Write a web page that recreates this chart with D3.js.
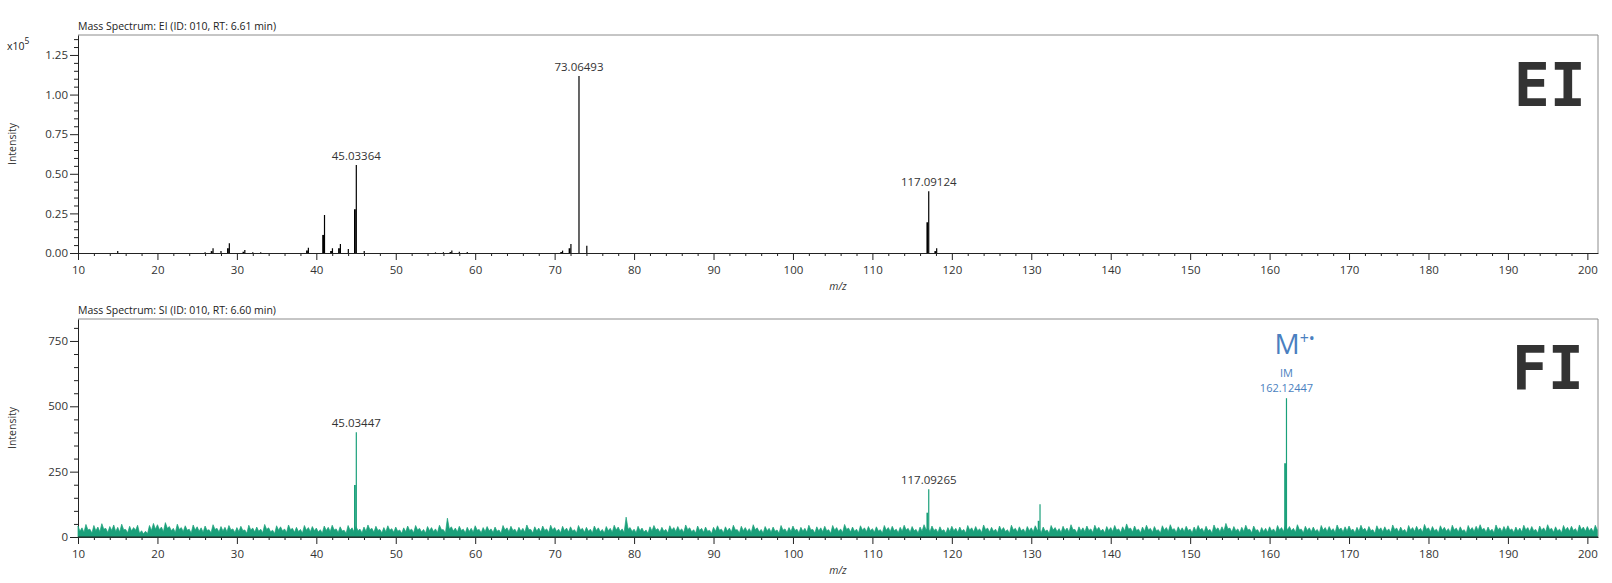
<!DOCTYPE html>
<html><head><meta charset="utf-8">
<script src="https://cdn.jsdelivr.net/npm/d3@7"></script>
<style>body{margin:0;background:#fff;} svg text{font-family:"Open Sans","Noto Sans",sans-serif;}</style>
</head><body><svg id="c" width="1612" height="583"></svg>
<script>
// ---------- DATA ----------
const xTickValues = [10,20,30,40,50,60,70,80,90,100,110,120,130,140,150,160,170,180,190,200];
const eiYTicks = [0, 25000, 50000, 75000, 100000, 125000];
const fiYTicks = [0, 250, 500, 750];

// EI spectrum (intensity counts)
const eiMz        = [15.0, 26.0, 27.0, 28.0, 29.05, 31.0, 32.0, 33.0, 39.0, 41.03, 42.03, 43.03, 44.03, 45.03364, 46.03, 55.0, 56.0, 57.06, 58.0, 59.0, 71.0, 72.05, 73.06493, 74.05, 117.09124, 118.09];
const eiIntensity = [1200, 500, 3000, 1200, 6100, 1900, 500, 400, 3300, 24000, 3000, 5700, 2500, 55600, 1200, 400, 500, 1500, 800, 600, 1500, 5700, 111700, 4500, 39000, 3000];
const eiShoulder  = [0, 0, 1200, 0, 3000, 800, 0, 0, 1500, 11400, 1200, 3000, 0, 27600, 0, 0, 0, 600, 0, 0, 600, 3000, 0, 0, 19400, 1200];
const eiLabels    = ["45.03364", "73.06493", "117.09124"];
const eiLabelMz   = [45.03364, 73.06493, 117.09124];

// FI spectrum
const fiMz        = [45.03447, 117.09265, 131.1, 162.12447];
const fiIntensity = [401, 183, 125, 531];
const fiShoulder  = [199, 93, 62, 282];
const fiLabels    = ["45.03447", "117.09265"];
const fiLabelMz   = [45.03447, 117.09265];
const fiIonMz     = 162.12447;
const fiIonLabel  = "162.12447";

// FI baseline noise: crests sampled at 10, 10.5, 11 ... and troughs at 10.25, 10.75 ...
const fiNoiseStart = 10, fiNoiseStep = 0.5;
const fiNoise = [
 42,35,48,30,44,38,51,33,40,46,37,49,29,41,36,45,24,22,44,52,
 47,38,55,40,33,49,36,43,30,46,39,35,42,28,47,33,40,37,44,31,
 36,41,27,45,34,38,30,48,35,26,43,39,31,46,33,37,29,44,36,40,
 34,28,42,37,45,31,39,26,44,35,40,30,38,46,33,41,29,36,43,32,
 38,27,35,42,30,44,33,29,40,36,31,45,28,72,39,34,41,30,37,33,
 43,29,36,40,31,38,27,44,35,41,30,37,33,46,29,39,34,42,31,45,
 36,30,41,34,39,28,44,33,37,30,42,35,29,40,33,45,38,31,76,36,
 30,41,34,27,39,44,32,37,29,43,36,40,31,46,35,28,42,33,38,26,
 37,43,30,39,34,45,28,41,36,32,47,35,29,40,33,38,27,44,31,36,
 42,30,37,33,45,29,39,35,41,28,44,36,31,48,34,38,30,43,35,40,
 32,39,28,44,36,41,30,37,45,33,40,29,38,47,35,42,31,39,28,36,
 41,33,38,29,44,35,40,31,46,34,37,30,42,36,28,45,33,39,31,40,
 35,43,30,38,27,44,36,32,41,34,47,29,39,35,42,31,45,37,30,40,
 36,44,31,39,50,34,42,30,38,45,33,40,28,43,36,47,32,39,35,41,
 30,38,44,33,41,29,46,35,39,52,34,40,31,37,45,30,42,28,36,33,
 39,31,44,36,45,40,33,47,30,41,35,38,29,44,36,40,32,46,34,39,
 42,30,37,45,33,40,28,43,35,39,31,46,34,38,29,44,36,41,33,48,
 35,40,30,43,37,32,45,34,39,28,44,36,41,47,33,38,30,46,35,40,
 43,31,38,34,45,36,40,29,42,35,47,33,39,30,44,37,41,32,46,38,
 40,34,45,36
];
const fiNoiseTrough = [
 22,18,27,15,24,20,30,17,25,21,19,28,16,23,26,14,12,13,25,30,
 28,20,33,24,17,29,21,26,15,27,22,18,25,16,29,19,23,20,27,17,
 21,25,14,27,19,22,16,29,20,13,26,23,17,28,18,21,15,26,20,24,
 19,15,25,21,27,17,23,14,26,20,24,16,22,28,18,25,16,20,26,18,
 22,14,20,25,16,27,19,15,24,21,17,28,15,30,23,19,25,16,21,18,
 26,16,21,24,17,22,14,27,20,25,16,22,18,28,15,23,19,25,17,27,
 21,16,24,19,23,15,27,18,22,16,25,20,15,24,18,27,22,17,30,21,
 16,24,19,14,23,27,18,22,15,26,21,24,17,28,20,15,25,18,22,13,
 22,26,16,23,19,27,15,24,21,17,28,20,15,24,18,22,14,26,17,21,
 25,16,22,18,27,15,23,20,24,14,26,21,17,29,19,22,16,26,20,24,
 18,23,15,26,21,24,16,22,27,18,24,15,22,28,20,25,17,23,14,21,
 24,18,22,15,26,20,24,17,28,19,22,16,25,21,14,27,18,23,17,24,
 20,26,16,22,14,27,21,17,24,19,28,15,23,20,25,17,27,22,16,24,
 21,26,17,23,30,19,25,16,22,27,18,24,15,26,21,28,17,23,20,25,
 16,22,27,18,24,15,28,20,23,31,19,24,17,21,27,16,25,14,21,18,
 23,17,26,21,27,24,18,28,16,25,20,22,15,26,21,24,17,28,19,23,
 25,16,22,27,18,24,14,26,20,23,17,28,19,22,15,26,21,25,18,29,
 20,24,16,26,22,17,27,19,23,14,26,21,25,28,18,22,16,28,20,24,
 26,17,22,19,27,21,24,15,25,20,28,18,23,16,26,22,25,17,28,22,
 24,19,27,21
];

// ---------- LAYOUT ----------
const L = 78, R = 1598;
const P1 = {top: 35, bottom: 253};
const P2 = {top: 319, bottom: 537};
const textCol = "#333";
const green = "#1aa07a";
const blue = "#4a7fc0";

const svg = d3.select("#c");
const x = d3.scaleLinear().domain([10, 10 + (R - L) / 7.944]).range([L, R]);
const yEI = d3.scaleLinear().domain([0, 137600]).range([P1.bottom, P1.top]);
const yFI = d3.scaleLinear().domain([0, 834]).range([P2.bottom, P2.top]);

function drawAxes(P, y, majorY, minorStep, fmt) {
  svg.append("path").attr("d", `M${L},${P.top}H${R}V${P.bottom}`)
     .attr("fill","none").attr("stroke","#8c8c8c").attr("stroke-width",1);
  const xMinor = d3.range(10, 202, 2).filter(v => xTickValues.indexOf(v) < 0);
  const gxm = svg.append("g").attr("transform",`translate(0,${P.bottom})`)
     .call(d3.axisBottom(x).tickValues(xMinor).tickSize(3).tickSizeOuter(0).tickFormat(""));
  gxm.select(".domain").remove();
  const gx = svg.append("g").attr("transform",`translate(0,${P.bottom})`)
     .call(d3.axisBottom(x).tickValues(xTickValues).tickSize(7).tickSizeOuter(0).tickPadding(6));
  gx.selectAll("text").attr("fill", textCol).style("font-size","11.5px");
  gx.selectAll("line,path").attr("stroke","#222");
  gxm.selectAll("line").attr("stroke","#222");
  const yMax = y.domain()[1];
  const yMinor = d3.range(0, yMax, minorStep).filter(v => majorY.indexOf(Math.round(v)) < 0);
  const gym = svg.append("g").attr("transform",`translate(${L},0)`)
     .call(d3.axisLeft(y).tickValues(yMinor).tickSize(4).tickSizeOuter(0).tickFormat(""));
  gym.select(".domain").remove();
  gym.selectAll("line").attr("stroke","#222");
  const gy = svg.append("g").attr("transform",`translate(${L},0)`)
     .call(d3.axisLeft(y).tickValues(majorY).tickSize(8).tickSizeOuter(0).tickPadding(2).tickFormat(fmt));
  gy.selectAll("text").attr("fill", textCol).style("font-size","11.5px");
  gy.selectAll("line,path").attr("stroke","#222");
  svg.append("text").attr("transform",`translate(16,${(P.top+P.bottom)/2}) rotate(-90)`)
     .attr("text-anchor","middle").attr("fill",textCol).style("font-size","10.5px").text("Intensity");
  svg.append("text").attr("x",(L+R)/2).attr("y",P.bottom+37).attr("text-anchor","middle")
     .attr("fill",textCol).style("font-size","10.5px").style("font-style","italic").text("m/z");
}

// ---------- EI PANEL ----------
drawAxes(P1, yEI, eiYTicks, 5000, d => (d/1e5).toFixed(2));
svg.append("text").attr("x",L).attr("y",30).attr("fill","#222").style("font-size","10.5px")
   .text("Mass Spectrum: EI (ID: 010, RT: 6.61 min)");
const xe = svg.append("text").attr("x",7).attr("y",50).attr("fill","#222").style("font-size","10.5px");
xe.append("tspan").text("x10");
xe.append("tspan").attr("dy",-6).style("font-size","8.5px").text("5");

const eiG = svg.append("g");
eiMz.forEach((m,i) => {
  if (eiShoulder[i] > 0) {
    eiG.append("line").attr("x1",x(m)-1.4).attr("x2",x(m)-1.4)
      .attr("y1",yEI(0)).attr("y2",yEI(eiShoulder[i])).attr("stroke","#000").attr("stroke-width",1.8);
  }
  eiG.append("line").attr("x1",x(m)).attr("x2",x(m))
    .attr("y1",yEI(0)).attr("y2",yEI(eiIntensity[i])).attr("stroke","#000").attr("stroke-width",1.2);
});
eiLabelMz.forEach((m,i) => {
  const h = eiIntensity[eiMz.indexOf(m)];
  svg.append("text").attr("x",x(m)).attr("y",yEI(h)-5).attr("text-anchor","middle")
     .attr("fill",textCol).style("font-size","11.5px").text(eiLabels[i]);
});
svg.append("text").attr("x",1586).attr("y",106).attr("text-anchor","end").attr("fill","#333")
   .style("font-family","'DejaVu Sans Mono',monospace").style("font-weight","bold").style("font-size","60px").text("EI");

// ---------- FI PANEL ----------
drawAxes(P2, yFI, fiYTicks, 50, d => d3.format("d")(d));
svg.append("text").attr("x",L).attr("y",314).attr("fill","#222").style("font-size","10.5px")
   .text("Mass Spectrum: SI (ID: 010, RT: 6.60 min)");

const noisePts = [];
fiNoise.forEach((v,i) => {
  noisePts.push([fiNoiseStart + i*fiNoiseStep, v]);
  noisePts.push([fiNoiseStart + i*fiNoiseStep + fiNoiseStep/2, fiNoiseTrough[i]]);
});
const pts = noisePts.filter(d => x(d[0]) <= R);
const area = d3.area().x(d => x(d[0])).y0(yFI(0)).y1(d => yFI(d[1]));
svg.append("path").datum(pts).attr("d", area).attr("fill", green).attr("stroke", green).attr("stroke-width",0.7);

fiMz.forEach((m,i) => {
  svg.append("line").attr("x1",x(m)-1.4).attr("x2",x(m)-1.4)
    .attr("y1",yFI(0)).attr("y2",yFI(fiShoulder[i])).attr("stroke",green).attr("stroke-width",1.8);
  svg.append("line").attr("x1",x(m)).attr("x2",x(m))
    .attr("y1",yFI(0)).attr("y2",yFI(fiIntensity[i])).attr("stroke",green).attr("stroke-width",1.2);
});
svg.append("line").attr("x1",L).attr("x2",R).attr("y1",P2.bottom).attr("y2",P2.bottom).attr("stroke","#222");

fiLabelMz.forEach((m,i) => {
  const h = fiIntensity[fiMz.indexOf(m)];
  svg.append("text").attr("x",x(m)).attr("y",yFI(h)-5).attr("text-anchor","middle")
     .attr("fill",textCol).style("font-size","11.5px").text(fiLabels[i]);
});
const hIon = fiIntensity[fiMz.indexOf(fiIonMz)];
svg.append("text").attr("x",x(fiIonMz)).attr("y",yFI(hIon)-6).attr("text-anchor","middle")
   .attr("fill",blue).style("font-size","11px").text(fiIonLabel);
svg.append("text").attr("x",x(fiIonMz)).attr("y",yFI(hIon)-21).attr("text-anchor","middle")
   .attr("fill",blue).style("font-size","11px").text("IM");
const mt = svg.append("text").attr("x",x(fiIonMz)-12).attr("y",yFI(hIon)-44)
   .attr("fill",blue).style("font-size","28px");
mt.append("tspan").text("M");
mt.append("tspan").attr("dy",-10).style("font-size","16px").text("+•");
svg.append("text").attr("x",1584).attr("y",389).attr("text-anchor","end").attr("fill","#333")
   .style("font-family","'DejaVu Sans Mono',monospace").style("font-weight","bold").style("font-size","60px").text("FI");
</script></body></html>
